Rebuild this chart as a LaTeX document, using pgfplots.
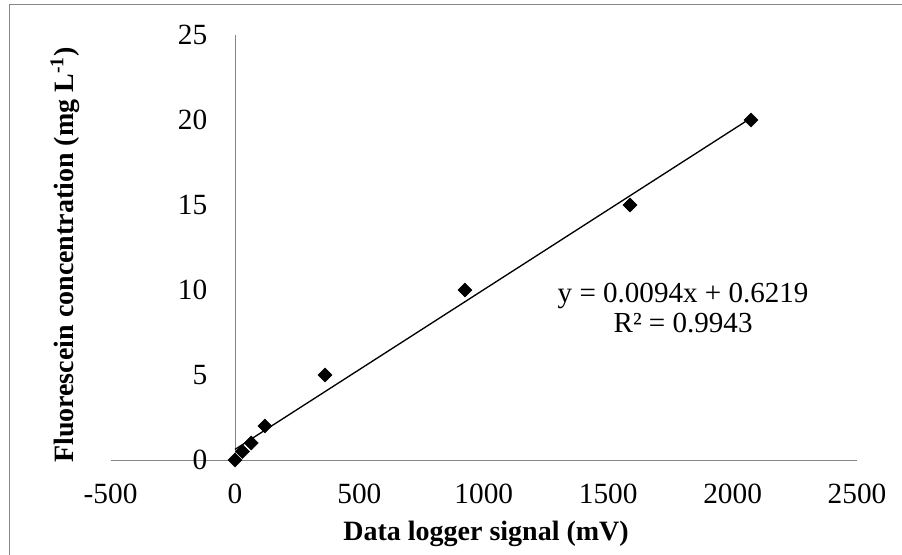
\documentclass[border=0pt]{standalone}
\usepackage{pgfplots}
\pgfplotsset{compat=1.18}
\usepackage{fontspec}
\setmainfont{Liberation Serif}
\definecolor{axisgray}{HTML}{868686}

\begin{document}
\begin{tikzpicture}
% page frame: 902x555 px at 0.75pt per px
\useasboundingbox (0,0) rectangle (676.5pt,-416.25pt);
\draw[axisgray, line width=0.75pt] (6.75pt,-416.25pt) -- (6.75pt,-3.75pt) -- (676.5pt,-3.75pt);

\begin{axis}[
    at={(82.95pt,-345pt)}, anchor=south west,
    scale only axis,
    width=559.8pt, height=318.75pt,
    xmin=-500, xmax=2500, ymin=0, ymax=25,
    xtick={-500,0,500,1000,1500,2000,2500},
    ytick={0,5,10,15,20,25},
    axis x line=bottom, axis y line=middle,
    hide obscured x ticks=false, hide obscured y ticks=false,
    axis line style={-, axisgray, line width=0.75pt},
    tick style={draw=none},
    /pgf/number format/assume math mode=true,
    /pgf/number format/1000 sep={},
    tick label style={font=\fontsize{22}{24}\selectfont},
    xticklabel style={anchor=north, inner sep=0pt, yshift=-16pt},
    yticklabel style={anchor=east, inner sep=0pt, xshift=-18.5pt},
    xlabel={\textbf{Data logger signal (mV)}},
    ylabel={\textbf{Fluorescein concentration (mg L\textsuperscript{-1})}},
    label style={font=\fontsize{21}{23}\selectfont},
    xlabel style={at={(axis description cs:0.503,-0.174)}, anchor=center},
    ylabel style={at={(axis description cs:-0.0611,0.482)}, anchor=center, rotate=90},
    clip=false,
]
% trendline y = 0.0094x + 0.6219 over the data range
\addplot[black, line width=1pt, mark=none] coordinates {
    (0,0.6219) (2074,20.117)
};
% calibration points
\addplot[only marks, mark=square*, mark size=3.7pt,
    mark options={rotate=45, fill=black, draw=black}] coordinates {
    (0,0) (30,0.5) (65,1) (120,2) (362,5) (924,10) (1588,15) (2074,20)
};
\node[align=center, font=\fontsize{21.8}{22.5}\selectfont] at (axis cs:1801,8.94)
    {y = 0.0094x + 0.6219\\R² = 0.9943};
\end{axis}
\end{tikzpicture}
\end{document}
